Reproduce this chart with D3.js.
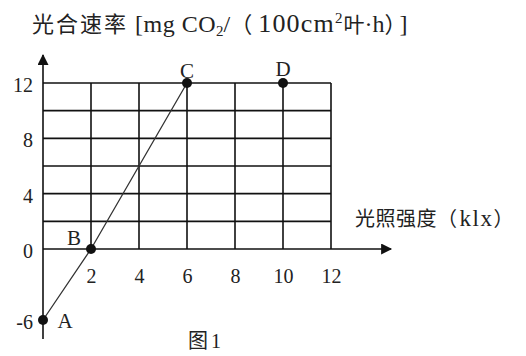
<!DOCTYPE html>
<html>
<head>
<meta charset="utf-8">
<script src="https://cdn.jsdelivr.net/npm/d3@7"></script>
<style>
  body { margin: 0; background: #fff; }
  svg { display: block; }
  .tick text { font-family: "Liberation Serif", "Times New Roman", serif; font-size: 20px; fill: #222; }
  .pt-label { font-family: "Liberation Serif", serif; font-size: 21px; fill: #222; }
  .cjk { font-family: "Noto Sans CJK SC", sans-serif; }
  .ser { font-family: "Liberation Serif", serif; }
</style>
</head>
<body>
<svg id="chart"></svg>
<script>
// chart data
const pointNames = ['A', 'B', 'C', 'D'];
const lightValues = [0, 2, 6, 10];      // klx
const rateValues = [-6, 0, 12, 12];     // mg CO2/(100cm2·h)
const linePoints = ['A', 'B', 'C'];
const xTickValues = [2, 4, 6, 8, 10, 12];
const yTickValues = [12, 8, 4, 0, -6];
const gridXValues = [2, 4, 6, 8, 10, 12];
const gridYValues = [2, 4, 6, 8, 10, 12];

const width = 526, height = 356;

const svg = d3.select('#chart')
    .attr('width', width)
    .attr('height', height);

svg.append('rect').attr('width', width).attr('height', height).attr('fill', '#fff');

// the y axis is squeezed below zero in the original drawing
const xScale = d3.scaleLinear().domain([0, 12]).range([43, 331]);
const yScale = d3.scaleLinear().domain([-6, 0, 12]).range([320, 249, 83]);

const data = pointNames.map((n, i) => ({ name: n, x: lightValues[i], y: rateValues[i] }));

// grid
const grid = svg.append('g').attr('stroke', '#111').attr('stroke-width', 1.6);
grid.selectAll('.gx')
    .data(gridXValues)
    .join('line')
    .attr('x1', d => xScale(d)).attr('x2', d => xScale(d))
    .attr('y1', yScale(0)).attr('y2', yScale(12));
grid.selectAll('.gy')
    .data(gridYValues)
    .join('line')
    .attr('x1', xScale(0)).attr('x2', xScale(12))
    .attr('y1', d => yScale(d)).attr('y2', d => yScale(d));

// axes lines with arrows
svg.append('defs').append('marker')
    .attr('id', 'arrow')
    .attr('viewBox', '0 0 10 10')
    .attr('refX', 9).attr('refY', 5)
    .attr('markerWidth', 14).attr('markerHeight', 11)
    .attr('markerUnits', 'userSpaceOnUse')
    .attr('orient', 'auto')
    .append('path').attr('d', 'M0,0L10,5L0,10Z').attr('fill', '#111');

svg.append('line')
    .attr('x1', xScale(0)).attr('x2', xScale(0))
    .attr('y1', 339).attr('y2', 55)
    .attr('stroke', '#111').attr('stroke-width', 1.6)
    .attr('marker-end', 'url(#arrow)');

svg.append('line')
    .attr('x1', xScale(0)).attr('x2', 391)
    .attr('y1', yScale(0)).attr('y2', yScale(0))
    .attr('stroke', '#111').attr('stroke-width', 1.6)
    .attr('marker-end', 'url(#arrow)');

// tick labels (plain hyphen for the minus sign, as in the original)
const xAxis = d3.axisBottom(xScale).tickValues(xTickValues).tickSize(0).tickPadding(20).tickFormat(d => String(d));
svg.append('g')
    .attr('transform', `translate(0,${yScale(0)})`)
    .call(xAxis)
    .call(g => g.select('.domain').remove());

const yAxis = d3.axisLeft(yScale).tickValues(yTickValues).tickSize(0).tickPadding(10).tickFormat(d => String(d));
svg.append('g')
    .attr('transform', `translate(${xScale(0)},2)`)
    .call(yAxis)
    .call(g => g.select('.domain').remove());

// line through A, B, C
const line = d3.line().x(d => xScale(d.x)).y(d => yScale(d.y));
svg.append('path')
    .datum(data.filter(d => linePoints.includes(d.name)))
    .attr('d', line)
    .attr('fill', 'none')
    .attr('stroke', '#333')
    .attr('stroke-width', 1.3);

// points
svg.selectAll('.pt')
    .data(data)
    .join('circle')
    .attr('class', 'pt')
    .attr('cx', d => xScale(d.x))
    .attr('cy', d => yScale(d.y))
    .attr('r', 5)
    .attr('fill', '#111');

const labelOffset = { A: [22, 8], B: [-17, -4], C: [0, -5], D: [0, -7] };
svg.selectAll('.pt-label')
    .data(data)
    .join('text')
    .attr('class', 'pt-label')
    .attr('text-anchor', 'middle')
    .attr('x', d => xScale(d.x) + labelOffset[d.name][0])
    .attr('y', d => yScale(d.y) + labelOffset[d.name][1])
    .text(d => d.name);

// titles -- one flowing text each, spacing nudged with dx / letter-spacing
const title = svg.append('text')
    .attr('x', 32).attr('y', 32)
    .attr('font-size', 24)
    .attr('fill', '#222');
title.append('tspan').attr('class', 'cjk').attr('font-size', 22).attr('letter-spacing', 2).text('光合速率');
title.append('tspan').attr('class', 'ser').attr('dx', 7).attr('letter-spacing', 0.5).text('[mg CO');
title.append('tspan').attr('class', 'ser').attr('font-size', 15).attr('dy', 4).text('2');
title.append('tspan').attr('class', 'ser').attr('dy', -4).text('/');
title.append('tspan').attr('class', 'cjk').attr('font-size', 22).text('（');
title.append('tspan').attr('class', 'ser').attr('dx', 6).attr('font-size', 26).attr('letter-spacing', 1.2).text('100cm');
title.append('tspan').attr('class', 'ser').attr('font-size', 15).attr('dy', -9).text('2');
title.append('tspan').attr('class', 'cjk').attr('font-size', 21).attr('dx', 1).attr('dy', 9).text('叶');
title.append('tspan').attr('class', 'ser').text('·h');
title.append('tspan').attr('class', 'cjk').attr('font-size', 22).text('）');
title.append('tspan').attr('class', 'ser').attr('dx', 4).text(']');

const xTitle = svg.append('text')
    .attr('x', 355).attr('y', 226)
    .attr('font-size', 20)
    .attr('fill', '#222');
xTitle.append('tspan').attr('class', 'cjk').attr('letter-spacing', 0.5).text('光照强度（');
xTitle.append('tspan').attr('class', 'ser').attr('dx', 2).attr('font-size', 23).attr('letter-spacing', 1.5).text('klx');
xTitle.append('tspan').attr('class', 'cjk').text('）');

const caption = svg.append('text')
    .attr('x', 188).attr('y', 348)
    .attr('font-size', 20)
    .attr('fill', '#222');
caption.append('tspan').attr('class', 'cjk').text('图');
caption.append('tspan').attr('class', 'ser').attr('dx', 3).text('1');
</script>
</body>
</html>
